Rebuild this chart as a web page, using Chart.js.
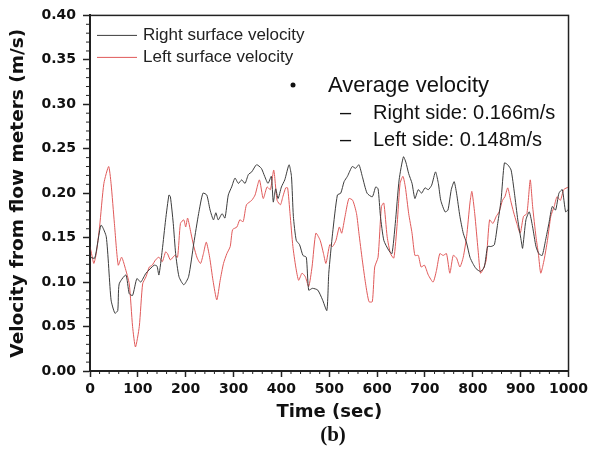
<!DOCTYPE html>
<html>
<head>
<meta charset="utf-8">
<script src="https://cdn.jsdelivr.net/npm/chart.js@4"></script>
<style>
  body { margin: 0; background: #fff; }
  #wrap { width: 592px; height: 455px; }
</style>
</head>
<body>
<div id="wrap"><canvas id="velocityChart" width="592" height="455"></canvas></div>
<script>
const seriesNames = ['Right surface velocity', 'Left surface velocity'];
const seriesColors = ['#3c3c3c', '#e05a5a'];
const sideNames = ['Right side', 'Left side'];
const averageValues = [0.166, 0.148];

const xTicks = [0, 100, 200, 300, 400, 500, 600, 700, 800, 900, 1000];
const yTicks = [0.00, 0.05, 0.10, 0.15, 0.20, 0.25, 0.30, 0.35, 0.40];

// right surface (black)
const rightTime = [0, 10, 23, 34, 44, 52, 58, 61, 75, 82, 89, 98, 106, 117, 134, 140, 144, 151, 158, 165,
  168, 174, 179, 186, 196, 206, 217, 227, 236, 244, 251, 258, 263, 268, 276, 282, 289, 296, 303, 310,
  317, 324, 331, 338, 348, 358, 365, 372, 379, 383, 388, 393, 400, 407, 416, 421, 425, 431, 438, 445,
  452, 457, 465, 476, 486, 495, 499, 507, 517, 524, 531, 538, 548, 555, 562, 569, 579, 590, 597, 602,
  607, 614, 624, 631, 638, 646, 655, 660, 666, 673, 679, 686, 693, 700, 707, 714, 722, 728, 733, 742,
  748, 755, 761, 766, 773, 780, 787, 794, 800, 807, 816, 824, 831, 838, 845, 852, 859, 866, 873, 880,
  887, 894, 901, 904, 911, 918, 925, 932, 938, 945, 952, 959, 966, 973, 980, 987, 994, 1000];
const rightVel = [0.128, 0.127, 0.164, 0.151, 0.080, 0.065, 0.068, 0.098, 0.108, 0.087, 0.085, 0.104, 0.100, 0.110, 0.119, 0.118, 0.108, 0.136, 0.170, 0.198,
  0.196, 0.166, 0.132, 0.106, 0.097, 0.106, 0.144, 0.177, 0.200, 0.198, 0.181, 0.170, 0.178, 0.170, 0.177, 0.172, 0.198, 0.207, 0.217, 0.211,
  0.215, 0.211, 0.221, 0.224, 0.232, 0.228, 0.219, 0.211, 0.219, 0.190, 0.205, 0.194, 0.207, 0.215, 0.232, 0.219, 0.174, 0.147, 0.142, 0.130,
  0.128, 0.091, 0.093, 0.091, 0.080, 0.068, 0.110, 0.155, 0.198, 0.200, 0.213, 0.219, 0.230, 0.228, 0.232, 0.219, 0.200, 0.196, 0.207, 0.205,
  0.174, 0.147, 0.136, 0.132, 0.166, 0.215, 0.241, 0.235, 0.222, 0.211, 0.194, 0.204, 0.200, 0.206, 0.204, 0.209, 0.224, 0.211, 0.192, 0.179,
  0.181, 0.204, 0.213, 0.200, 0.174, 0.155, 0.144, 0.128, 0.121, 0.115, 0.112, 0.117, 0.140, 0.140, 0.142, 0.166, 0.192, 0.234, 0.232, 0.226,
  0.200, 0.170, 0.147, 0.138, 0.170, 0.179, 0.162, 0.140, 0.132, 0.130, 0.147, 0.166, 0.185, 0.181, 0.200, 0.204, 0.179, 0.182];

// left surface (red)
const leftTime = [0, 4, 8, 13, 20, 29, 39, 44, 51, 59, 66, 73, 82, 89, 95, 103, 110, 117, 124, 130,
  137, 144, 151, 158, 162, 168, 177, 183, 189, 196, 200, 204, 211, 217, 224, 231, 237, 243, 250, 257,
  265, 272, 279, 286, 293, 298, 307, 313, 320, 327, 338, 345, 354, 362, 370, 377, 384, 391, 398, 403,
  409, 413, 418, 424, 430, 436, 443, 450, 457, 464, 472, 481, 488, 493, 501, 507, 514, 521, 526, 533,
  541, 549, 557, 562, 569, 576, 583, 590, 595, 602, 609, 614, 621, 628, 635, 642, 648, 654, 659, 666,
  673, 679, 686, 692, 699, 707, 717, 724, 731, 738, 745, 752, 759, 766, 773, 780, 787, 794, 798, 804,
  811, 816, 822, 828, 835, 842, 849, 855, 862, 867, 873, 879, 885, 892, 899, 906, 913, 920, 925, 932,
  937, 942, 949, 956, 963, 970, 976, 983, 990, 1000];
const leftVel = [0.140, 0.130, 0.121, 0.132, 0.162, 0.211, 0.230, 0.211, 0.166, 0.119, 0.128, 0.117, 0.098, 0.050, 0.027, 0.050, 0.098, 0.106, 0.117, 0.119,
  0.125, 0.128, 0.123, 0.134, 0.132, 0.125, 0.130, 0.128, 0.166, 0.170, 0.162, 0.172, 0.155, 0.140, 0.127, 0.121, 0.132, 0.145, 0.128, 0.102,
  0.080, 0.102, 0.121, 0.132, 0.140, 0.159, 0.162, 0.170, 0.168, 0.187, 0.192, 0.198, 0.215, 0.194, 0.207, 0.204, 0.226, 0.192, 0.187, 0.196,
  0.206, 0.206, 0.177, 0.140, 0.117, 0.102, 0.110, 0.106, 0.095, 0.117, 0.155, 0.147, 0.132, 0.121, 0.142, 0.140, 0.147, 0.162, 0.155, 0.174,
  0.194, 0.192, 0.177, 0.155, 0.125, 0.098, 0.078, 0.078, 0.117, 0.128, 0.185, 0.189, 0.151, 0.132, 0.127, 0.166, 0.211, 0.219, 0.207, 0.177,
  0.155, 0.130, 0.130, 0.117, 0.119, 0.108, 0.100, 0.113, 0.132, 0.130, 0.132, 0.110, 0.130, 0.127, 0.117, 0.128, 0.151, 0.189, 0.202, 0.177,
  0.136, 0.110, 0.115, 0.125, 0.170, 0.166, 0.174, 0.179, 0.192, 0.196, 0.206, 0.192, 0.179, 0.166, 0.155, 0.174, 0.177, 0.215, 0.185, 0.151,
  0.132, 0.110, 0.125, 0.147, 0.174, 0.185, 0.196, 0.192, 0.204, 0.207];

const toPoints = (ts, vs) => ts.map((t, i) => ({ x: t, y: vs[i] }));

const boldFont = 'DejaVu Sans';
const plainFont = '"Liberation Sans", Arial, sans-serif';

// frame, minor ticks, in-plot legend and annotation text
const decorations = {
    id: 'decorations',
    afterDraw(chart) {
        const { ctx, chartArea: a, scales } = chart;
        ctx.save();
        ctx.strokeStyle = '#222';
        ctx.lineWidth = 1.5;
        ctx.strokeRect(a.left, a.top, a.right - a.left, a.bottom - a.top);

        ctx.lineWidth = 1;
        ctx.beginPath();
        for (let v = 0; v <= 1000; v += 20) {
            if (v % 100 === 0) continue;
            const px = scales.x.getPixelForValue(v);
            ctx.moveTo(px, a.bottom);
            ctx.lineTo(px, a.bottom + 3);
        }
        for (let k = 0; k <= 40; k++) {
            if (k % 5 === 0) continue;
            const py = scales.y.getPixelForValue(k / 100);
            ctx.moveTo(a.left, py);
            ctx.lineTo(a.left - 4, py);
        }
        ctx.stroke();

        // legend
        ctx.textBaseline = 'middle';
        ctx.textAlign = 'left';
        ctx.font = '17px ' + plainFont;
        seriesNames.forEach((name, i) => {
            const y = a.top + 20 + i * 22;
            ctx.strokeStyle = seriesColors[i];
            ctx.lineWidth = 1;
            ctx.beginPath();
            ctx.moveTo(a.left + 7, y);
            ctx.lineTo(a.left + 47, y);
            ctx.stroke();
            ctx.fillStyle = '#222';
            ctx.fillText(name, a.left + 53, y);
        });

        // average velocity note
        ctx.fillStyle = '#111';
        ctx.beginPath();
        ctx.arc(293, 85, 2.5, 0, Math.PI * 2);
        ctx.fill();
        ctx.font = '22px ' + plainFont;
        ctx.fillText('Average velocity', 328, 86);
        ctx.font = '20px ' + plainFont;
        sideNames.forEach((name, i) => {
            const y = 113 + i * 27;
            ctx.fillText('\u2013', 340, y);
            ctx.fillText(name + ': ' + averageValues[i].toFixed(3) + 'm/s', 373, y);
        });

        // panel label
        ctx.textAlign = 'center';
        ctx.font = 'bold 21px "Liberation Serif", serif';
        ctx.fillText('(b)', 333, 436);
        ctx.restore();
    }
};

new Chart(document.getElementById('velocityChart'), {
    type: 'line',
    data: {
        datasets: [
            {
                label: seriesNames[0],
                data: toPoints(rightTime, rightVel),
                borderColor: seriesColors[0],
                borderWidth: 1,
                tension: 0.2
            },
            {
                label: seriesNames[1],
                data: toPoints(leftTime, leftVel),
                borderColor: seriesColors[1],
                borderWidth: 1,
                tension: 0.2
            }
        ]
    },
    options: {
        responsive: false,
        animation: false,
        layout: { padding: { top: 15, right: 19, bottom: 0, left: 0 } },
        elements: { point: { radius: 0 } },
        plugins: {
            legend: { display: false },
            tooltip: { enabled: false }
        },
        scales: {
            x: {
                type: 'linear',
                min: 0,
                max: 1000,
                afterBuildTicks: (s) => { s.ticks = xTicks.map(v => ({ value: v })); },
                afterFit: (s) => { s.height = 84; },
                ticks: {
                    color: '#111',
                    padding: 4,
                    maxRotation: 0,
                    autoSkip: false,
                    callback: (v) => String(v),
                    font: { family: boldFont, size: 14, weight: 'bold' }
                },
                grid: { drawOnChartArea: false, tickLength: 6, tickColor: '#222', tickWidth: 1.5 },
                border: { color: '#222', width: 2 },
                title: {
                    display: true,
                    text: 'Time (sec)',
                    color: '#111',
                    font: { family: boldFont, size: 18, weight: 'bold' },
                    padding: { top: 0, bottom: 32 }
                }
            },
            y: {
                min: 0,
                max: 0.4,
                afterBuildTicks: (s) => { s.ticks = yTicks.map(v => ({ value: v })); },
                afterFit: (s) => { s.width = 90; },
                ticks: {
                    color: '#111',
                    padding: 7,
                    callback: (v) => Number(v).toFixed(2),
                    font: { family: boldFont, size: 14, weight: 'bold' }
                },
                grid: { drawOnChartArea: false, tickLength: 7, tickColor: '#222', tickWidth: 1.5 },
                border: { color: '#222', width: 2 },
                title: {
                    display: true,
                    text: 'Velocity from flow meters (m/s)',
                    color: '#111',
                    font: { family: boldFont, size: 18.5, weight: 'bold' },
                    padding: { top: 7, bottom: 0 }
                }
            }
        }
    },
    plugins: [decorations]
});
</script>
</body>
</html>
